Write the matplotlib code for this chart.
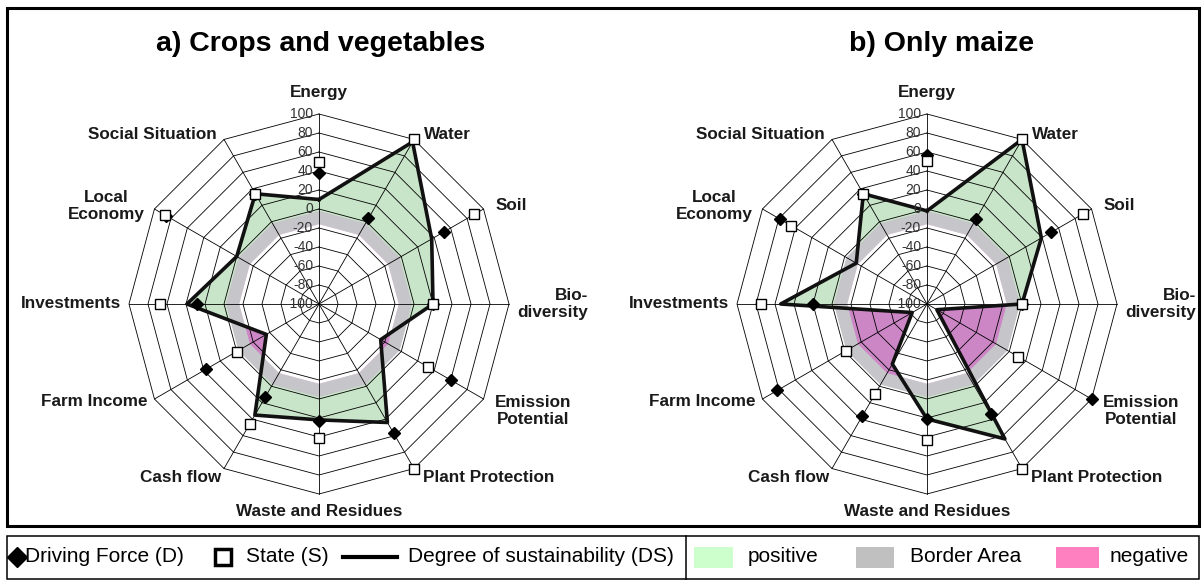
import matplotlib.pyplot as plt
import numpy as np
from matplotlib.patches import Polygon, Rectangle

plt.rcParams['font.family'] = ['Liberation Sans', 'DejaVu Sans']

indicators = ['Energy', 'Water', 'Soil', 'Bio-\ndiversity', 'Emission\nPotential',
              'Plant Protection', 'Waste and Residues', 'Cash flow', 'Farm Income',
              'Investments', 'Local\nEconomy', 'Social Situation']
scale_ticks = [-100, -80, -60, -40, -20, 0, 20, 40, 60, 80, 100]

# a) crops and vegetables
crops_D = [38, 4, 52, 20, 60, 57, 23, 13, 37, 28, 86, 34]
crops_S = [50, 100, 89, 20, 32, 100, 41, 46, 0, 67, 87, 34]
crops_DS = [10, 97, 37, 20, -25, 44, 22, 35, -36, 39, 0, 34]

# b) only maize
maize_D = [57, 3, 51, 0, 100, 34, 21, 36, 82, 20, 79, 34]
maize_S = [51, 100, 90, 0, 11, 100, 43, 9, -2, 75, 65, 34]
maize_DS = [-2, 100, 39, 0, -88, 64, 21, -27, -82, 54, -14, 34]

# border area of the sustainability scale
border_low, border_high = -16, -2

W, H = 1203, 582
R = 190
fig = plt.figure(figsize=(W / 100, H / 100), dpi=100)
ax = fig.add_axes([0, 0, 1, 1])
ax.set_xlim(0, W)
ax.set_ylim(H, 0)
ax.axis('off')

ang = np.deg2rad(90 - 30 * np.arange(12))


def xy(vals, cx, cy):
    r = (np.asarray(vals, float) + 100) / 200 * R
    return cx + r * np.cos(ang), cy - r * np.sin(ang)


def closed(a):
    return np.r_[a, a[0]]


# (dx, dy, ha) of each indicator label from its outer vertex
lab_off = [(0, -21, 'center'), (10, -5, 'left'), (12, -3, 'left'), (79, 0, 'right'),
           (11, 12, 'left'), (9, 9, 'left'), (0, 18, 'center'), (-3, 9, 'right'),
           (-7, 3, 'right'), (-8, 0, 'right'), (-10, -3, 'right'), (-7, -5, 'right')]


def radar(cx, cy, D, S, DS):
    x, y = xy(DS, cx, cy)
    ax.fill(x, y, color='#c9e5c9', lw=0, zorder=1)
    bx, by = xy([border_high] * 12, cx, cy)
    ax.fill(bx, by, color='#c6c6ca', lw=0, zorder=2)
    ix, iy = xy([border_low] * 12, cx, cy)
    ax.fill(ix, iy, color='#cc86c6', lw=0, zorder=3)
    inner = Polygon(np.c_[ix, iy], closed=True, transform=ax.transData)
    w = ax.fill(x, y, color='white', lw=0, zorder=4)[0]
    w.set_clip_path(inner)

    for v in scale_ticks[1:]:
        rx, ry = xy([v] * 12, cx, cy)
        ax.plot(closed(rx), closed(ry), color='k', lw=0.6, zorder=5)
    ox, oy = xy([100] * 12, cx, cy)
    for i in range(12):
        ax.plot([cx, ox[i]], [cy, oy[i]], color='k', lw=0.6, zorder=5)

    ax.plot(closed(x), closed(y), color='#111111', lw=2.6, zorder=6)
    dx, dy = xy(D, cx, cy)
    ax.plot(dx, dy, 'D', ms=6.5, color='k', ls='none', zorder=7)
    sx, sy = xy(S, cx, cy)
    ax.plot(sx, sy, 's', ms=7.5, mfc='white', mec='k', mew=1.0, ls='none', zorder=8)

    for v in scale_ticks:
        ax.text(cx - 6, cy - (v + 100) / 200 * R, str(v), ha='right', va='center',
                fontsize=10, color='#333333', zorder=9)

    for i, name in enumerate(indicators):
        ddx, ddy, ha = lab_off[i]
        ma = 'right' if ddx > 50 else 'center'
        ax.text(ox[i] + ddx, oy[i] + ddy, name, ha=ha, va='center', multialignment=ma,
                fontsize=12.3, fontweight='bold', color='#1a1a1a', zorder=9)


radar(319, 304, crops_D, crops_S, crops_DS)
radar(927, 304, maize_D, maize_S, maize_DS)

ax.text(321, 44, 'a) Crops and vegetables', ha='center', va='center', fontsize=20.5, fontweight='bold')
ax.text(942, 44, 'b) Only maize', ha='center', va='center', fontsize=20.5, fontweight='bold')

# frames
ax.add_patch(Rectangle((7, 8), 1192, 518, fill=False, ec='k', lw=2.2, zorder=10))
ax.add_patch(Rectangle((7, 536), 1192, 43, fill=False, ec='k', lw=1.1, zorder=10))
ax.plot([686, 686], [536, 579], color='k', lw=1.1, zorder=10)

# legend
ly = 557
ax.plot([17], [ly], 'D', ms=10, color='k')
ax.text(25, ly, 'Driving Force (D)', va='center', fontsize=15)
ax.plot([223], [ly], 's', ms=12, mfc='white', mec='k', mew=2.5)
ax.text(246, ly, 'State (S)', va='center', fontsize=15)
ax.plot([343, 397], [ly, ly], color='k', lw=3)
ax.text(408, ly, 'Degree of sustainability (DS)', va='center', fontsize=15)
ax.add_patch(Rectangle((694, 547), 39, 21, fc='#ccffcc', ec='none'))
ax.text(748, ly, 'positive', va='center', fontsize=15)
ax.add_patch(Rectangle((856, 547), 38, 21, fc='#c0c0c0', ec='none'))
ax.text(910, ly, 'Border Area', va='center', fontsize=15)
ax.add_patch(Rectangle((1056, 547), 43, 21, fc='#ff80c0', ec='none'))
ax.text(1110, ly, 'negative', va='center', fontsize=15)

fig.savefig('out.png', dpi=100)
